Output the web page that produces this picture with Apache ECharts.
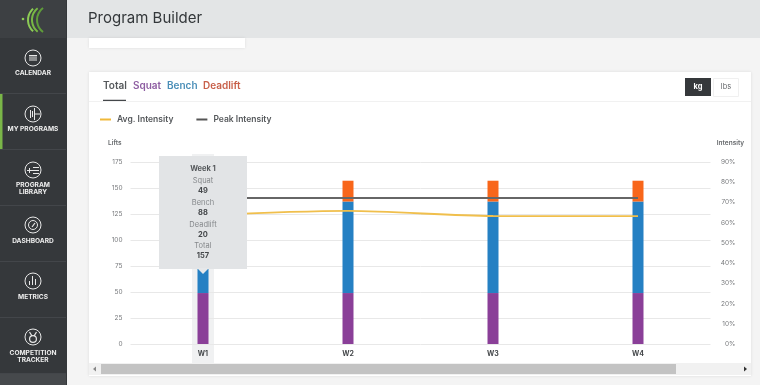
<!DOCTYPE html>
<html style="height: 100%">
<head>
<meta charset="utf-8">
<style>
  .tip-arrow { position: absolute; left: 38px; bottom: -5px; width: 0; height: 0;
    border-left: 6px solid transparent; border-right: 6px solid transparent; border-top: 6px solid #e6e8ea; }
  .tip-line { height: 10px; line-height: 10px; }
</style>
</head>
<body style="height: 100%; margin: 0; background: #f4f4f4">
<div id="container" style="width: 760px; height: 385px"></div>
<script src="https://cdn.jsdelivr.net/npm/echarts@6/dist/echarts.min.js"></script>
<script>
var weeks = ['W1', 'W2', 'W3', 'W4'];
var weekNames = ['Week 1', 'Week 2', 'Week 3', 'Week 4'];
var squat = [49, 49, 49, 49];
var bench = [88, 88, 88, 88];
var deadlift = [20, 20, 20, 20];
var total = [157, 157, 157, 157];
var avgIntensity = [63.6, 65.8, 63.3, 63.2];
var peakIntensity = [72.2, 72.2, 72.2, 72.2];

var FONT = 'Inter';
var chart = echarts.init(document.getElementById('container'));

function box(x, y, w, h, fill, z, extra) {
  return { type: 'rect', silent: true, z: z === undefined ? -10 : z,
    shape: { x: x, y: y, width: w, height: h },
    style: Object.assign({ fill: fill }, extra || {}) };
}
function label(x, y, text, size, color, weight, align) {
  return { type: 'text', silent: true, z: -5, x: x, y: y,
    style: { text: text, fontFamily: FONT, fontSize: size, fill: color,
      fontWeight: weight || 400, align: align || 'left', verticalAlign: 'middle' } };
}
function line(x1, y1, x2, y2, color, w) {
  return { type: 'line', silent: true, z: -5, shape: { x1: x1, y1: y1, x2: x2, y2: y2 },
    style: { stroke: color, lineWidth: w || 1, fill: null } };
}
function ring(cx, cy, r, color, w) {
  return { type: 'circle', silent: true, z: -5, shape: { cx: cx, cy: cy, r: r },
    style: { stroke: color, lineWidth: w || 1, fill: null } };
}
function arc(cx, cy, r, a, color, w) {
  return { type: 'arc', silent: true, z: -5,
    shape: { cx: cx, cy: cy, r: r, startAngle: Math.PI - a, endAngle: Math.PI + a },
    style: { stroke: color, lineWidth: w, fill: null } };
}

// page chrome: sidebar, header, cards
var chrome = [
  box(0, 0, 760, 385, '#f4f4f4', -20),
  box(67, 0, 693, 38, '#e3e5e6'),
  box(0, 0, 67, 385, '#35383b'),
  box(0, 0, 66, 38, '#3d4043'),
  box(0, 373, 66, 12, '#46494c'),
  box(89, 38, 156, 10, '#ffffff', -10, { shadowBlur: 3, shadowColor: 'rgba(0,0,0,0.10)' }),
  box(89, 72, 662, 304, '#ffffff', -10, { shadowBlur: 3, shadowColor: 'rgba(0,0,0,0.10)' }),
  box(0, 94, 2.5, 55, '#7ab648'),
  label(88, 18.5, 'Program Builder', 15, '#33373a', 400),
  label(103, 86, 'Total', 10, '#55585b', 600),
  label(133, 86, 'Squat', 10, '#8e5ea2', 600),
  label(167, 86, 'Bench', 10, '#4b8fb8', 600),
  label(203, 86, 'Deadlift', 10, '#c8604a', 600),
  line(103, 100.5, 126, 100.5, '#44474a', 1.5),
  line(89, 101.5, 751, 101.5, '#f1f1f1', 1),
  box(685, 78, 26, 18, '#35383b'),
  label(698, 87, 'kg', 7.5, '#ffffff', 700, 'center'),
  box(713.5, 78.5, 25, 18, '#ffffff', -10, { stroke: '#f0f0f0', lineWidth: 1 }),
  label(726, 87, 'lbs', 7.5, '#66696c', 400, 'center'),
  box(89, 363, 662, 12, '#f1f1f1'),
  box(101, 364, 575, 10, '#c3c3c3'),
  { type: 'polygon', silent: true, z: -5, shape: { points: [[96, 366.5], [96, 371.5], [93, 369]] }, style: { fill: '#888888' } },
  { type: 'polygon', silent: true, z: -5, shape: { points: [[744, 366.5], [744, 371.5], [747, 369]] }, style: { fill: '#333333' } },
  // logo
  { type: 'circle', silent: true, z: -5, shape: { cx: 23, cy: 19, r: 1.3 }, style: { fill: '#8ccb55' } },
  arc(43, 20, 15, 0.85, '#8ccb55', 2),
  arc(47, 20, 15, 0.9, '#78b845', 2),
  arc(52, 20, 15, 0.93, '#5f9c3a', 2)
];

// sidebar entries, icon centre y and label lines
var navItems = [
  { y: 58, sep: 93, labels: [['CALENDAR', 73]] },
  { y: 114, sep: 149, labels: [['MY PROGRAMS', 129]] },
  { y: 170, sep: 205, labels: [['PROGRAM', 185], ['LIBRARY', 192.5]] },
  { y: 225, sep: 261, labels: [['DASHBOARD', 241]] },
  { y: 281, sep: 317, labels: [['METRICS', 297]] },
  { y: 337, sep: 373, labels: [['COMPETITION', 353], ['TRACKER', 360]] }
];
navItems.forEach(function (item) {
  chrome.push(line(0, item.sep + 0.5, 66, item.sep + 0.5, '#43464a', 1));
  chrome.push(ring(33, item.y, 8, '#e8e8e8', 1));
  item.labels.forEach(function (l) {
    chrome.push(label(33, l[1], l[0], 6.6, '#eeeeee', 700, 'center'));
  });
});
var ic = '#e8e8e8';
chrome.push(
  box(29, 55, 8, 1.4, ic, -5), box(29, 57.5, 8, 1, ic, -5), box(29, 59.5, 8, 1, ic, -5),
  line(30.5, 110, 30.5, 118, ic), line(32.5, 111, 32.5, 117, ic), line(34.5, 108, 34.5, 120, ic), line(35, 114, 40, 114, ic),
  line(27, 170.5, 39, 170.5, ic), line(33, 167.5, 39, 167.5, ic), line(33, 173.5, 39, 173.5, ic), line(29.5, 168, 29.5, 173, ic),
  ring(33, 225, 4.5, ic, 1), line(32, 227, 35, 223, ic, 1.2),
  line(29.5, 285, 29.5, 281, ic), line(32.5, 285, 32.5, 276, ic), line(35.5, 285, 35.5, 279, ic),
  ring(33, 339, 3.4, ic, 1.2), line(29.5, 332, 32, 336, ic, 1.2), line(36.5, 332, 34, 336, ic, 1.2)
);

function tipHtml(i) {
  var rows = [['Squat', squat[i]], ['Bench', bench[i]], ['Deadlift', deadlift[i]], ['Total', total[i]]];
  var html = '<div class="tip-line" style="font-weight:700;color:#55585b;margin-bottom:2.5px">' + weekNames[i] + '</div>';
  rows.forEach(function (r) {
    html += '<div class="tip-line" style="color:#85888b">' + r[0] + '</div>' +
      '<div class="tip-line" style="font-weight:700;color:#45484b;margin-bottom:1.8px">' + r[1] + '</div>';
  });
  return html + '<div class="tip-arrow"></div>';
}

var option = {
  animation: false,
  textStyle: { fontFamily: FONT },
  graphic: { elements: chrome },
  grid: { left: 130.5, right: 49.5, top: 162, bottom: 41 },
  legend: {
    left: 95, top: 110, itemWidth: 11, itemHeight: 2, itemGap: 23, icon: 'rect',
    data: ['Avg. Intensity', 'Peak Intensity'],
    selectedMode: false,
    textStyle: { fontFamily: FONT, fontSize: 8.5, fontWeight: 600, color: '#55585b', padding: [0, 0, 0, 1] }
  },
  tooltip: {
    show: true, trigger: 'axis', alwaysShowContent: true, transitionDuration: 0,
    axisPointer: { type: 'none' },
    backgroundColor: '#e2e4e6', borderWidth: 0, padding: [7.5, 0, 0, 0],
    extraCssText: 'width:88px;height:105.5px;border-radius:0;box-shadow:none;text-align:center;overflow:visible;',
    textStyle: { fontFamily: FONT, fontSize: 7.5, color: '#55585b' },
    formatter: function (params) { return tipHtml(params[0].dataIndex); },
    position: function () {
      var c = chart.convertToPixel({ xAxisIndex: 0 }, weeks[0]);
      return [c - 44, 156];
    }
  },
  xAxis: {
    type: 'category', data: weeks,
    axisLine: { show: false }, axisTick: { show: false },
    axisLabel: { fontFamily: FONT, fontSize: 7, fontWeight: 700, color: '#44474a', margin: 6 }
  },
  yAxis: [
    {
      type: 'value', min: 0, max: 175, interval: 25, name: 'Lifts',
      nameLocation: 'end', nameGap: 15,
      nameTextStyle: { fontFamily: FONT, fontSize: 6.5, fontWeight: 600, color: '#66696c', align: 'right', padding: [0, 9, 0, 0] },
      axisLine: { show: false }, axisTick: { show: false },
      axisLabel: { fontFamily: FONT, fontSize: 6.5, color: '#77797c', margin: 8 },
      splitLine: { lineStyle: { color: '#e8e8e8', width: 1 } }
    },
    {
      type: 'value', min: 0, max: 90, interval: 10, name: 'Intensity',
      nameLocation: 'end', nameGap: 15,
      nameTextStyle: { fontFamily: FONT, fontSize: 6.5, fontWeight: 600, color: '#66696c', align: 'center', padding: [0, 0, 0, 40] },
      axisLine: { show: false }, axisTick: { show: false },
      axisLabel: { fontFamily: FONT, fontSize: 6.5, color: '#77797c', margin: 25, align: 'right', formatter: '{value}%' },
      splitLine: { show: false }
    }
  ],
  series: [
    { name: 'Squat', type: 'bar', stack: 'lifts', barWidth: 11, data: squat, itemStyle: { color: '#8a3f98' }, emphasis: { disabled: true } },
    { name: 'Bench', type: 'bar', stack: 'lifts', barWidth: 11, data: bench, itemStyle: { color: '#2580c3' }, emphasis: { disabled: true } },
    { name: 'Deadlift', type: 'bar', stack: 'lifts', barWidth: 11, data: deadlift, itemStyle: { color: '#f8661a' }, emphasis: { disabled: true } },
    { name: 'Avg. Intensity', type: 'line', yAxisIndex: 1, smooth: 0.3, symbol: 'none', data: avgIntensity,
      itemStyle: { color: '#f0b93a' }, lineStyle: { color: '#f0bf4c', width: 1.8 }, z: 5, emphasis: { disabled: true } },
    { name: 'Peak Intensity', type: 'line', yAxisIndex: 1, symbol: 'none', data: peakIntensity,
      itemStyle: { color: '#555555' }, lineStyle: { color: '#666666', width: 2 }, z: 6, emphasis: { disabled: true } }
  ]
};

chart.setOption(option);

// highlight band behind the active week
var cx = chart.convertToPixel({ xAxisIndex: 0 }, weeks[0]);
chrome.push(box(cx - 11, 154, 22, 209, '#f0f1f2', -8));
chart.setOption({ graphic: { elements: chrome } });
chart.dispatchAction({ type: 'showTip', seriesIndex: 0, dataIndex: 0 });
</script>
</body>
</html>
